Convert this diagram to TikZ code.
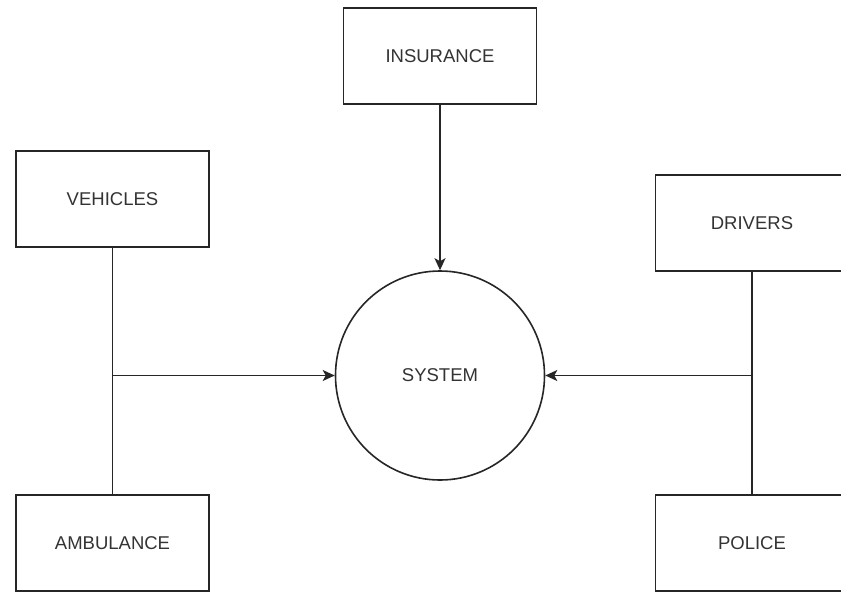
\documentclass[tikz,border=0pt]{standalone}
\usepackage{fontspec}
\setmainfont{Liberation Sans}
\usetikzlibrary{arrows.meta}
\begin{document}
\begin{tikzpicture}[x=1pt,y=-1pt,
  entity/.style={draw=black!85, line width=1.6pt, minimum width=193pt, minimum height=96pt,
                 inner sep=0pt, font=\fontsize{18.5}{20}\selectfont, text=black!80},
  proc/.style={draw=black!85, line width=1.6pt, circle, minimum size=209pt, inner sep=0pt,
               font=\fontsize{18.5}{20}\selectfont, text=black!80},
  flow/.style={draw=black!85, line width=1.6pt},
  flowarrow/.style={flow, -{Stealth[length=12pt,width=11pt,inset=3pt]}}]
  \useasboundingbox (0,0) rectangle (841,592);
  \clip (0,0) rectangle (841,592);
  \fill[white] (0,0) rectangle (841,592);

  % external entities
  \node[entity] (ins) at (440,56) {INSURANCE};
  \node[entity] (veh) at (112.5,199) {VEHICLES};
  \node[entity] (amb) at (112.5,543) {AMBULANCE};
  \node[entity] (drv) at (752,223) {DRIVERS};
  \node[entity] (pol) at (752,543) {POLICE};

  % central process
  \node[proc] (sys) at (440,375.5) {SYSTEM};

  % junction points where the paired entities join
  \coordinate (jl) at (veh.south |- sys.west);
  \coordinate (jr) at (drv.south |- sys.east);

  % flows
  \draw[flowarrow] (ins.south) -- (sys.north);
  \draw[flow] (veh.south) -- (amb.north);
  \draw[flow] (drv.south) -- (pol.north);
  \draw[flowarrow] (jl) -- (sys.west);
  \draw[flowarrow] (jr) -- (sys.east);
\end{tikzpicture}
\end{document}
